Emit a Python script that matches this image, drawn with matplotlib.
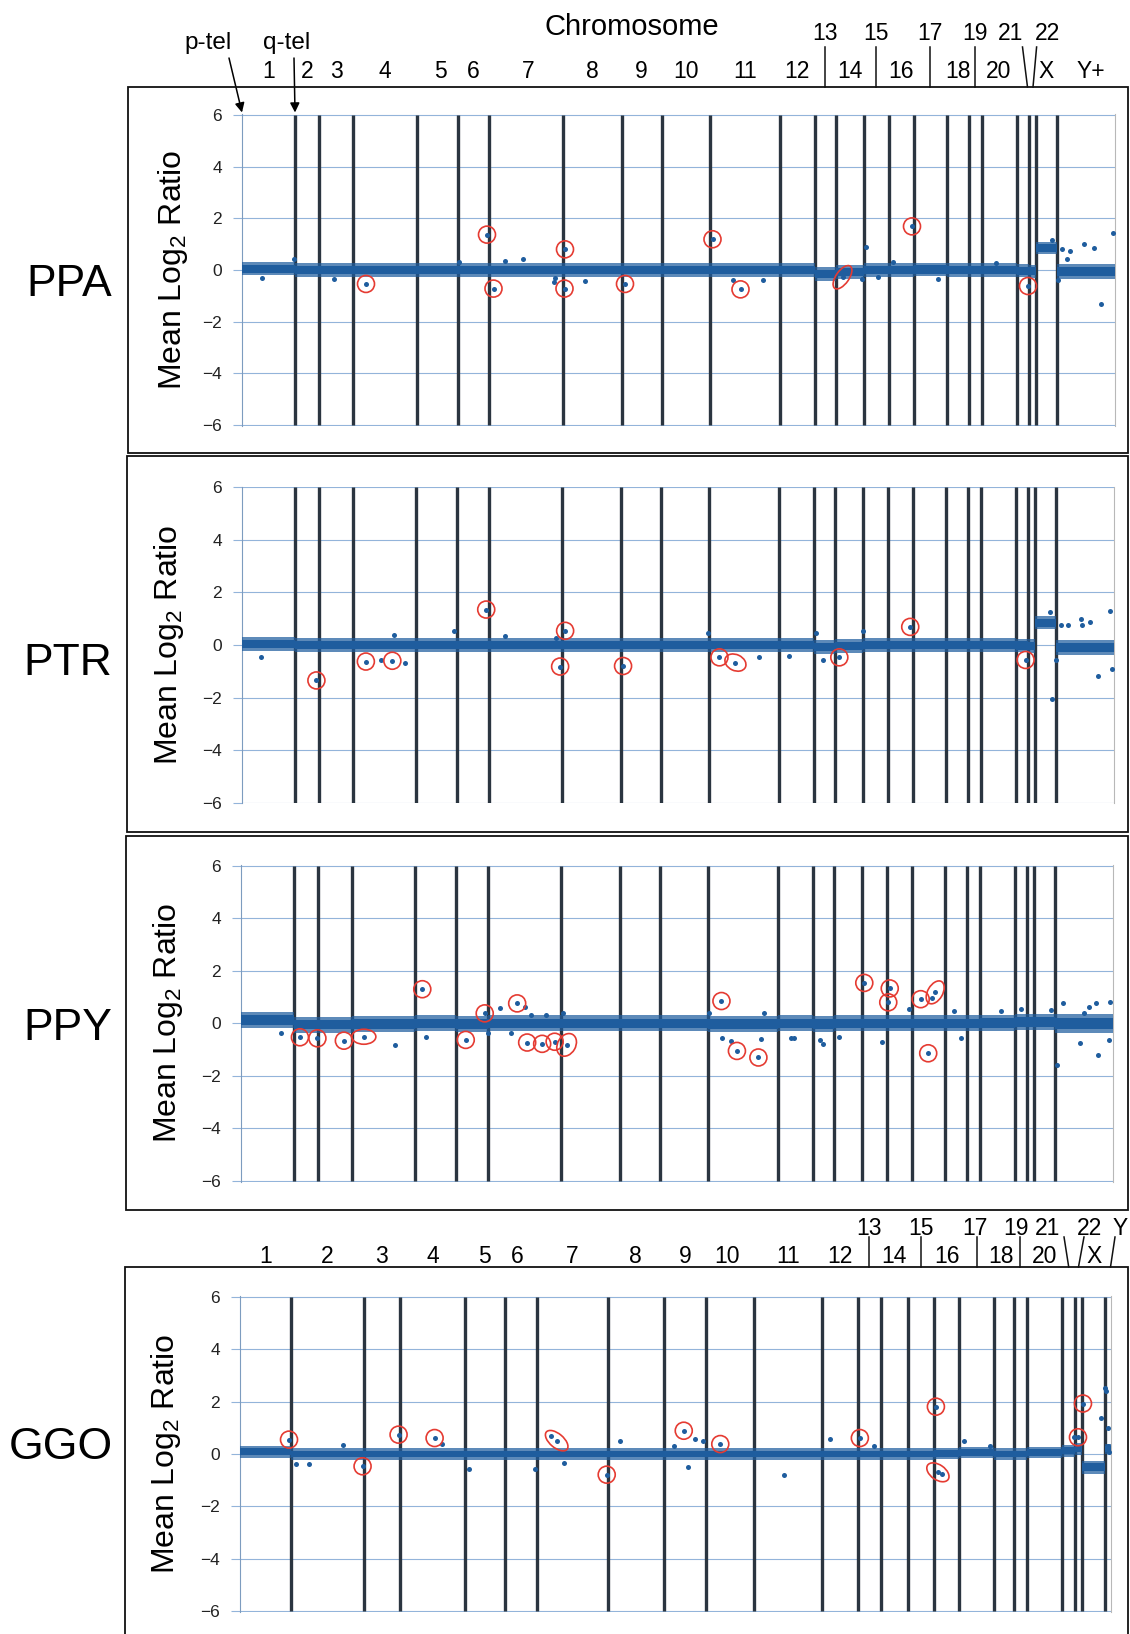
import matplotlib
matplotlib.use('Agg')
import matplotlib.pyplot as plt
import matplotlib.transforms as mtransforms
from matplotlib.patches import Ellipse, Rectangle
import numpy as np

plt.rcParams['font.family'] = ['Liberation Sans', 'DejaVu Sans']

W, H = 1130, 1634          # output size in px, dpi 100

# chromosome end positions (array index); PPA, PTR, PPY share one layout
chrom = ['1', '2', '3', '4', '5', '6', '7', '8', '9', '10', '11', '12', '13', '14',
         '15', '16', '17', '18', '19', '20', '21', '22', 'X', 'Y']
ends_a = [106, 154, 222, 349, 431, 494, 641, 759, 839, 936, 1075, 1145, 1187, 1243,
          1293, 1343, 1410, 1453, 1479, 1549, 1573, 1587, 1629, 1746]
ends_g = [101, 247, 320, 449, 530, 593, 735, 847, 932, 1028, 1163, 1235, 1281, 1335,
          1387, 1438, 1507, 1547, 1573, 1643, 1670, 1684, 1729, 1741]

# per chromosome level and spread of the main cloud of clones
ppa_level = [0.05, 0, 0, 0, 0, 0, 0, 0, 0, 0, 0, 0, -0.15, -0.08, 0, 0, 0.02, 0, 0, 0, -0.03, -0.05, 0.85, -0.05]
ppa_spread = [0.26, 0.26, 0.26, 0.26, 0.26, 0.26, 0.26, 0.26, 0.26, 0.26, 0.26, 0.26, 0.26, 0.26,
              0.26, 0.26, 0.26, 0.26, 0.26, 0.26, 0.26, 0.26, 0.24, 0.28]
ptr_level = [0.05, 0, 0, 0, 0, 0, 0, 0, 0, 0, 0, 0, -0.08, -0.05, 0, 0, 0, 0, 0, 0, -0.02, -0.05, 0.85, -0.10]
ptr_spread = [0.26, 0.26, 0.26, 0.26, 0.26, 0.26, 0.26, 0.26, 0.26, 0.26, 0.26, 0.26, 0.26, 0.26,
              0.26, 0.26, 0.26, 0.26, 0.26, 0.26, 0.26, 0.26, 0.25, 0.28]
ppy_level = [0.12, -0.05, -0.05, -0.03, 0, -0.03, 0, 0, 0, 0, -0.03, 0, -0.03, 0, 0, 0, 0, 0, 0, 0.02, 0.05, 0.05, 0.05, 0.0]
ppy_spread = [0.30, 0.30, 0.30, 0.30, 0.30, 0.30, 0.30, 0.30, 0.30, 0.30, 0.30, 0.30, 0.30, 0.30,
              0.30, 0.30, 0.30, 0.30, 0.30, 0.30, 0.30, 0.30, 0.30, 0.36]
ggo_level = [0.08, 0, 0, 0, 0, 0, 0, 0, 0, 0, 0, 0, 0, 0, 0, 0.02, 0.05, 0, 0, 0.05, 0.12, 0.2, -0.5, 0.2]
ggo_spread = [0.22, 0.22, 0.22, 0.22, 0.22, 0.22, 0.22, 0.22, 0.22, 0.22, 0.22, 0.22, 0.22, 0.22,
              0.22, 0.22, 0.22, 0.22, 0.22, 0.22, 0.22, 0.22, 0.25, 0.20]

# single clones off the cloud
ppa_pos = [39, 103, 183, 433, 526, 561, 623, 626, 686, 982, 1042, 1239, 1247, 1272, 1302, 1392,
           1508, 1619, 1632, 1639, 1649, 1656, 1684, 1704, 1718, 1741]
ppa_val = [-0.32, 0.41, -0.36, 0.32, 0.35, 0.41, -0.45, -0.32, -0.42, -0.38, -0.38, -0.35, 0.90,
           -0.28, 0.32, -0.35, 0.28, 1.18, -0.38, 0.83, 0.42, 0.74, 1.00, 0.87, -1.31, 1.44]
ptr_pos = [39, 279, 304, 326, 425, 526, 629, 933, 1036, 1095, 1149, 1163, 1243, 1617, 1621, 1629,
           1639, 1653, 1679, 1681, 1698, 1713, 1737, 1741]
ptr_val = [-0.47, -0.57, 0.38, -0.67, 0.54, 0.34, 0.25, 0.44, -0.47, -0.42, 0.44, -0.57, 0.54,
           1.24, -2.06, -0.57, 0.76, 0.76, 0.99, 0.76, 0.88, -1.18, 1.29, -0.92]
ppy_pos = [81, 309, 371, 494, 518, 541, 568, 581, 611, 644, 938, 964, 981, 1042, 1048, 1101, 1108,
           1160, 1166, 1198, 1284, 1338, 1384, 1428, 1441, 1521, 1561, 1621, 1633, 1646, 1680, 1688,
           1698, 1712, 1716, 1738, 1740]
ppy_val = [-0.38, -0.82, -0.51, -0.38, 0.57, -0.38, 0.63, 0.31, 0.31, 0.38, 0.38, -0.57, -0.66,
           -0.60, 0.40, -0.57, -0.57, -0.63, -0.80, -0.51, -0.70, 0.53, 0.98, 0.48, -0.57, 0.48,
           0.53, 0.50, -1.60, 0.76, -0.76, 0.38, 0.63, 0.76, -1.20, -0.63, 0.82]
ggo_pos = [111, 137, 205, 403, 457, 589, 621, 647, 760, 867, 895, 910, 925, 1087, 1180, 1267, 1403,
           1447, 1500, 1667, 1722, 1730, 1732, 1735, 1736, 1738]
ggo_val = [-0.38, -0.38, 0.35, 0.38, -0.57, -0.57, 0.70, -0.35, 0.51, 0.32, -0.48, 0.57, 0.48,
           -0.79, 0.57, 0.32, -0.76, 0.48, 0.32, 0.66, 1.37, 2.54, 2.40, 0.99, 0.30, 0.06]

# circled clones
ppa_hit_pos = [248, 490, 503, 646, 645, 766, 941, 997, 1201, 1340, 1572]
ppa_hit_val = [-0.54, 1.37, -0.72, 0.80, -0.72, -0.54, 1.19, -0.75, -0.28, 1.69, -0.62]
ptr_hit_pos = [149, 248, 301, 489, 647, 637, 763, 956, 988, 1196, 1338, 1569]
ptr_hit_val = [-1.35, -0.63, -0.60, 1.35, 0.54, -0.82, -0.80, -0.47, -0.67, -0.47, 0.69, -0.57]
ppy_hit_pos = [118, 153, 206, 246, 363, 450, 488, 553, 573, 603, 628, 652, 962, 993, 1036, 1248,
               1299, 1296, 1361, 1390, 1376]
ppy_hit_val = [-0.53, -0.57, -0.66, -0.51, 1.30, -0.63, 0.38, 0.76, -0.73, -0.78, -0.70, -0.82,
               0.85, -1.05, -1.30, 1.54, 1.33, 0.80, 0.92, 1.18, -1.14]
ggo_hit_pos = [98, 245, 317, 389, 633, 733, 887, 960, 1239, 1391, 1395, 1675, 1685]
ggo_hit_val = [0.55, -0.47, 0.74, 0.61, 0.51, -0.79, 0.89, 0.38, 0.61, 1.81, -0.70, 0.64, 1.93]

# ring shapes that are not plain circles: index -> (width px, height px, angle)
ppa_oval = {8: (27, 13, 55)}
ptr_oval = {8: (22, 16, -25)}
ppy_oval = {3: (24, 15, 0), 11: (24, 18, 60), 19: (25, 15, 60)}
ggo_oval = {4: (27, 14, -40), 10: (25, 15, -35)}

BLUE = '#1f5d9e'
GRID = '#93b4da'
VLINE = '#2b3540'
RED = '#e53b32'

fig = plt.figure(figsize=(W / 100, H / 100), dpi=100)


def fx(px):
    return px / W


def fy(py):
    return 1 - py / H


def panel(box, area, ends, level, spread, pos, val, hit_pos, hit_val, oval, name, name_xy, ylab_x):
    # frame round the panel
    x0, y0, x1, y1 = box
    fig.patches.append(Rectangle((fx(x0), fy(y1)), fx(x1 - x0), (y1 - y0) / H,
                                 transform=fig.transFigure, fill=False, lw=1.3,
                                 edgecolor='#111111', zorder=0))
    ax0, ay0, ax1, ay1 = area
    ax = fig.add_axes([fx(ax0), fy(ay1), fx(ax1 - ax0), (ay1 - ay0) / H])
    ax.set_xlim(0, ends[-1])
    ax.set_ylim(-6.03, 6.03)
    ax.set_yticks([-6, -4, -2, 0, 2, 4, 6])
    ax.set_xticks([])
    ax.yaxis.grid(True, color=GRID, lw=0.8, zorder=0)
    ax.set_axisbelow(True)
    for s in ['top', 'bottom']:
        ax.spines[s].set_visible(False)
    ax.spines['left'].set_color('#7d9cbf')
    ax.spines['left'].set_linewidth(0.8)
    ax.spines['right'].set_color('#b8b8b8')
    ax.spines['right'].set_linewidth(0.8)
    ax.tick_params(axis='y', length=6.5, width=0.8, color=GRID, pad=8,
                   labelsize=12.5, labelcolor='#222222')

    ax.vlines(ends[:-1], -6, 6, color=VLINE, lw=2.4, zorder=2)

    starts = [0] + ends[:-1]
    xs = np.ravel(np.column_stack([starts, ends]))
    lv = np.repeat(level, 2)
    sp = np.repeat(spread, 2)
    ax.fill_between(xs, lv - sp, lv + sp, color=BLUE, alpha=0.72, lw=0, zorder=3)
    ax.fill_between(xs, lv - 0.6 * sp, lv + 0.6 * sp, color=BLUE, lw=0, zorder=3)

    ax.scatter(pos, val, s=13, color=BLUE, lw=0, zorder=4)
    ax.scatter(hit_pos, hit_val, s=13, color=BLUE, lw=0, zorder=4)
    for i, (xp, yp) in enumerate(zip(hit_pos, hit_val)):
        w, h, ang = oval.get(i, (17, 17, 0))
        tr = fig.dpi_scale_trans + mtransforms.ScaledTranslation(xp, yp, ax.transData)
        ax.add_patch(Ellipse((0, 0), w / 100, h / 100, angle=ang, transform=tr,
                             fill=False, edgecolor=RED, lw=1.2, zorder=5))

    fig.text(fx(name_xy[0]), fy(name_xy[1]), name, fontsize=32, ha='center', va='baseline')
    fig.text(fx(ylab_x), fy((ay0 + ay1) / 2), r'Mean Log$_{\mathregular{2}}$ Ratio', fontsize=23,
             rotation=90, ha='center', va='center')
    return ax


def chrom_labels(ax, ends, lower, upper, leads, shift, y_low, y_up, lead_top, lead_bot):
    starts = [0] + ends[:-1]
    mids = dict(zip(chrom, [(a + b) / 2 for a, b in zip(starts, ends)]))
    tr = mtransforms.blended_transform_factory(ax.transData, fig.transFigure)
    sc = ends[-1] / (ax.get_position().width * W)      # data units per px
    for c, lab in lower:
        fig.text(mids[c] + shift.get(c, 0) * sc, fy(y_low), lab, transform=tr,
                 fontsize=16.5, ha='center', va='baseline')
    for c in upper:
        fig.text(mids[c] + shift.get(c, 0) * sc, fy(y_up), c, transform=tr,
                 fontsize=16.5, ha='center', va='baseline')
    for c, (dt, db) in leads.items():
        fig.lines.append(plt.Line2D([mids[c] + dt * sc, mids[c] + db * sc],
                                    [fy(lead_top), fy(lead_bot)], transform=tr,
                                    color='#111111', lw=1.1))


ax1 = panel((128, 86.5, 1128, 453), (242, 114.3, 1115, 425.7), ends_a, ppa_level, ppa_spread,
            ppa_pos, ppa_val, ppa_hit_pos, ppa_hit_val, ppa_oval, 'PPA', (69, 296), 173)
ax2 = panel((127, 456, 1128, 832), (242, 486.7, 1114, 803.3), ends_a, ptr_level, ptr_spread,
            ptr_pos, ptr_val, ptr_hit_pos, ptr_hit_val, ptr_oval, 'PTR', (68, 675), 169)
ax3 = panel((126, 836, 1128, 1210), (241, 865, 1113, 1181.7), ends_a, ppy_level, ppy_spread,
            ppy_pos, ppy_val, ppy_hit_pos, ppy_hit_val, ppy_oval, 'PPY', (68, 1040), 168)
ax4 = panel((125, 1267, 1128, 1645), (240, 1296.3, 1111, 1611.7), ends_g, ggo_level, ggo_spread,
            ggo_pos, ggo_val, ggo_hit_pos, ggo_hit_val, ggo_oval, 'GGO', (61, 1459), 166)

lower_a = [(c, c) for c in ['1', '2', '3', '4', '5', '6', '7', '8', '9', '10', '11', '12',
                            '14', '16', '18', '20', 'X']] + [('Y', 'Y+')]
upper_a = ['13', '15', '17', '19', '21', '22']
leads_a = {'13': (0, 0), '15': (0, 0), '17': (0, 0), '19': (0, 0), '21': (0, 5), '22': (4.6, 1)}
shift_a = {'21': -12, '22': 15, 'Y': 5, '5': 3, '7': 2}
chrom_labels(ax1, ends_a, lower_a, upper_a, leads_a, shift_a, 78, 40, 47, 87)

lower_g = [(c, c) for c in ['1', '2', '3', '4', '5', '6', '7', '8', '9', '10', '11', '12',
                            '14', '16', '18', '20', 'X']]
upper_g = ['13', '15', '17', '19', '21', '22', 'Y']
leads_g = {'13': (0, 0), '15': (0, 0), '17': (0, 0), '19': (0, 0), '21': (-4.7, 0),
           '22': (5, -0.5), 'Y': (7, 2.5)}
shift_g = {'21': -21, '22': 10.5, 'Y': 12.5, '19': -4, '17': -2, '6': -4, '10': -3, '18': -3}
chrom_labels(ax4, ends_g, lower_g, upper_g, leads_g, shift_g, 1263, 1235, 1237, 1267)

fig.text(fx(632), fy(35), 'Chromosome', fontsize=21, ha='center', va='baseline')

# telomere pointers
for lab, tx in [('p-tel', 208), ('q-tel', 287)]:
    fig.text(fx(tx), fy(48.5), lab, fontsize=17.5, ha='center', va='baseline')
arrow = dict(arrowstyle='-|>', lw=1.1, color='black', mutation_scale=14, shrinkA=0, shrinkB=0)
ax1.annotate('', xy=(0, 6.1), xycoords='data', xytext=(fx(229), fy(58)),
             textcoords='figure fraction', arrowprops=arrow, annotation_clip=False)
ax1.annotate('', xy=(ends_a[0], 6.1), xycoords='data', xytext=(fx(294), fy(58)),
             textcoords='figure fraction', arrowprops=arrow, annotation_clip=False)

fig.savefig('out.png', dpi=100)
